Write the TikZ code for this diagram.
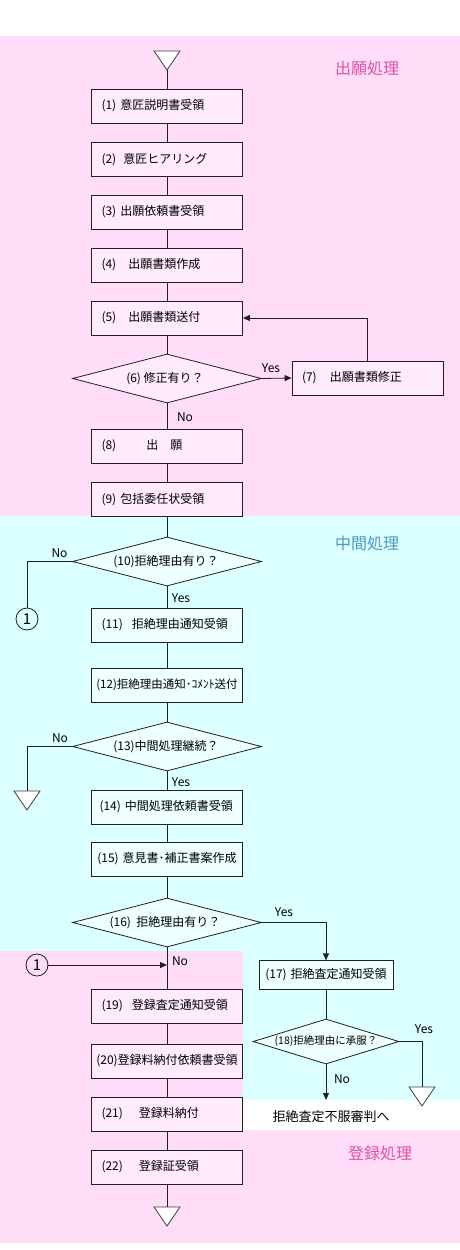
\documentclass[tikz,border=0pt]{standalone}
\usepackage{fontspec}
\setmainfont{Noto Sans CJK JP}
\usetikzlibrary{arrows.meta,shapes.geometric}
\definecolor{pinkbg}{HTML}{FFDDF8}
\definecolor{cyanbg}{HTML}{DCFFFF}
\definecolor{pinkbox}{HTML}{FFEBFC}
\definecolor{cyanbox}{HTML}{EEFFFF}
\definecolor{pinklabel}{HTML}{E050A8}
\definecolor{bluelabel}{HTML}{4A98C8}
\definecolor{linec}{HTML}{202020}
\begin{document}
\begin{tikzpicture}[x=1pt,y=-1pt,line width=0.8pt,draw=linec,
  box/.style={draw=linec, rectangle, minimum width=151pt, minimum height=34pt,
    inner xsep=10pt, inner ysep=0pt, text width=131pt, align=left,
    font=\fontsize{12}{14}\selectfont},
  pbox/.style={box, fill=pinkbox},
  cbox/.style={box, fill=cyanbox},
  dia/.style={draw=linec, diamond, inner sep=0pt, minimum width=189pt, minimum height=49pt},
  dtext/.style={font=\fontsize{12}{14}\selectfont, inner sep=0pt},
  yn/.style={font=\fontsize{12}{14}\selectfont, inner sep=0pt},
  sec/.style={font=\fontsize{16}{18}\selectfont, inner sep=0pt},
  circ/.style={draw=linec, circle, minimum size=22pt, inner sep=0pt, font=\fontsize{15}{15}\selectfont},
  arr/.style={-{Triangle[length=7pt,width=6pt]}},
  tri/.style={draw=black!75, fill=white, line width=0.8pt}
]
% background
\useasboundingbox (0,0) rectangle (460,1250);
\fill[white] (0,0) rectangle (460,1250);
\fill[pinkbg] (0,36) rectangle (460,516);
\fill[cyanbg] (0,516) rectangle (460,951);
\fill[pinkbg] (0,951) rectangle (243,1243);
\fill[cyanbg] (243,951) rectangle (460,1100);
\fill[pinkbg] (243,1130) rectangle (460,1243);

% section labels
\node[sec, text=pinklabel] (s1) at (367,68) {出願処理};
\node[sec, text=bluelabel] (s2) at (367,543) {中間処理};
\node[sec, text=pinklabel] (s3) at (380,1153) {登録処理};

% start triangle
\coordinate (ts) at (167,51);
\coordinate (tsb) at (167,70);
\draw[tri] (ts) ++(-13,0) -- ++(26,0) -- ++(-13,19) -- cycle;

% boxes
\node[pbox] (b1) at (167,106) {(1)~意匠説明書受領};
\node[pbox] (b2) at (167,159.5) {(2)\hspace{7pt}意匠ヒアリング};
\node[pbox] (b3) at (167,212) {(3)~出願依頼書受領};
\node[pbox] (b4) at (167,265) {(4)\hspace{12pt}出願書類作成};
\node[pbox] (b5) at (167,318) {(5)\hspace{12pt}出願書類送付};
\node[dia, fill=pinkbox] (d6) at (167,378.5) {};
\node[dtext] (d6t) at (165,378.5) {(6)~修正有り？};
\node[pbox] (b7) at (367.5,378) {(7)\hspace{13pt}出願書類修正};
\node[pbox] (b8) at (167,446) {(8)\hspace{30pt}出\hspace{12pt}願};
\node[pbox] (b9) at (167,499.5) {(9)~包括委任状受領};

\node[dia, fill=cyanbox] (d10) at (167,561.5) {};
\node[dtext] (d10t) at (166,561.5) {(10)拒絶理由有り？};
\node[circ] (c1a) at (27,619) {1};
\node[cbox] (b11) at (167,625) {(11)\hspace{9pt}拒絶理由通知受領};
\node[cbox, text width=147pt, inner xsep=2pt, align=center, font=\fontsize{11.5}{13}\selectfont] (b12) at (167,685) {(12)拒絶理由通知･ｺﾒﾝﾄ送付};
\node[dia, fill=cyanbox] (d13) at (167,746.5) {};
\node[dtext] (d13t) at (166,746.5) {(13)中間処理継続？};
\coordinate (t2) at (27,791);
\draw[tri] (t2) ++(-13,0) -- ++(26,0) -- ++(-13,19) -- cycle;
\node[cbox, inner xsep=8pt, text width=135pt] (b14) at (167,807) {(14)~中間処理依頼書受領};
\node[cbox, inner xsep=2pt, text width=147pt, align=center] (b15) at (167,859) {(15)~意見書･補正書案作成};
\node[dia, fill=cyanbox] (d16) at (167,922.5) {};
\node[dtext] (d16t) at (165,922.5) {(16)~~拒絶理由有り？};
\node[cbox, minimum width=134pt, minimum height=28.5pt, text width=124pt, inner xsep=5pt, align=center] (b17) at (326,975) {(17)~拒絶査定通知受領};
\node[circ] (c1b) at (37,965) {1};

\node[pbox] (b19) at (167,1006) {(19)\hspace{9pt}登録査定通知受領};
\node[pbox, inner xsep=3pt, text width=145pt, align=center] (b20) at (167,1061) {(20)登録料納付依頼書受領};
\node[pbox] (b21) at (167,1114) {(21)\hspace{16pt}登録料納付};
\node[pbox] (b22) at (167,1167) {(22)\hspace{16pt}登録証受領};
\coordinate (te) at (167,1207);
\draw[tri] (te) ++(-13,0) -- ++(26,0) -- ++(-13,19) -- cycle;

\node[dia, fill=cyanbox, minimum width=146pt, minimum height=45pt] (d18) at (326,1041.5) {};
\node[dtext, font=\fontsize{10.5}{12}\selectfont] (d18t) at (326,1041.5) {(18)拒絶理由に承服？};
\coordinate (t4) at (422,1087);
\draw[tri] (t4) ++(-13,0) -- ++(26,0) -- ++(-13,19) -- cycle;
\coordinate (n18) at (326,1100);
\node[font=\fontsize{13}{15}\selectfont, inner sep=0pt] (appeal) at (331,1117) {拒絶査定不服審判へ};

% connectors
\draw (tsb) -- (b1.north);
\draw (b1) -- (b2);
\draw (b2) -- (b3);
\draw (b3) -- (b4);
\draw (b4) -- (b5);
\draw (b5.south) -- (d6.north);
\draw[arr] (d6.east) -- (b7.west);
\draw[arr] (b7.north) |- (b5.east);
\draw (d6.south) -- (b8.north);
\draw (b8) -- (b9);
\draw (b9.south) -- (d10.north);
\draw (d10.west) -| (c1a.north);
\draw (d10.south) -- (b11.north);
\draw (b11) -- (b12);
\draw (b12.south) -- (d13.north);
\draw (d13.west) -| (t2);
\draw (d13.south) -- (b14.north);
\draw (b14) -- (b15);
\draw (b15.south) -- (d16.north);
\draw[arr] (d16.east) -| (b17.north);
\draw (d16.south) -- (b19.north);
\draw[arr] (c1b.east) -- (c1b.east -| d16.south);
\draw (b19) -- (b20);
\draw (b20) -- (b21);
\draw (b21) -- (b22);
\draw (b22.south) -- (te);
\draw (b17.south) -- (d18.north);
\draw (d18.east) -| (t4);
\draw[arr] (d18.south) -- (n18);

% yes/no labels
\node[yn] (y6) at (271,368) {Yes};
\node[yn] (n6) at (185,417) {No};
\node[yn] (n10) at (59.5,553) {No};
\node[yn] (y10) at (181,598) {Yes};
\node[yn] (n13) at (60,738) {No};
\node[yn] (y13) at (181,782) {Yes};
\node[yn] (y16) at (284,912) {Yes};
\node[yn] (n16) at (180,961) {No};
\node[yn] (y18) at (424,1029) {Yes};
\node[yn] (n18l) at (342,1079) {No};
\end{tikzpicture}
\end{document}
